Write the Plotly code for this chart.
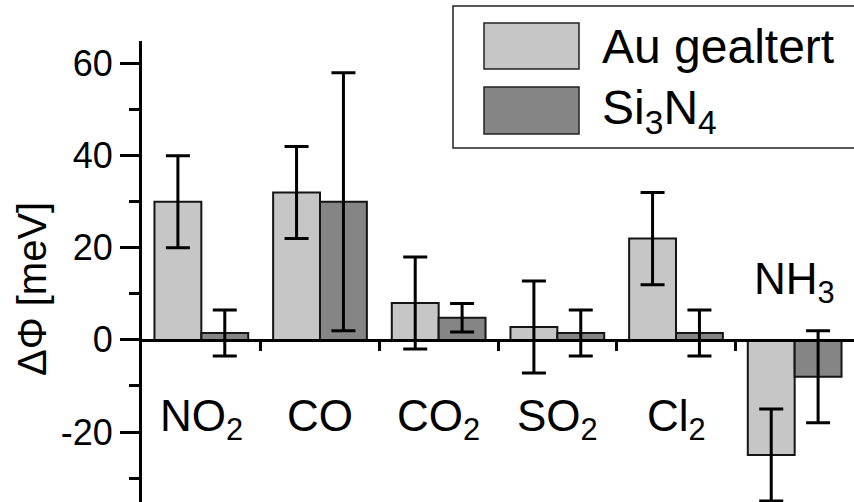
import plotly.graph_objects as go

# ---- data ----
categories = ["NO<sub>2</sub>", "CO", "CO<sub>2</sub>", "SO<sub>2</sub>", "Cl<sub>2</sub>", "NH<sub>3</sub>"]
series_names = ["Au gealtert", "Si<sub>3</sub>N<sub>4</sub>"]
au_values = [30, 32, 8, 2.8, 22, -25]
au_errors = [10, 10, 10, 10, 10, 10]
si_values = [1.5, 30, 4.8, 1.5, 1.5, -8]
si_errors = [5, 28, 3.1, 5, 5, 10]
y_tickvals = [-20, 0, 20, 40, 60]
y_ticktext = ["-20", "0", "20", "40", "60"]
y_title = "ΔΦ [meV]"

# ---- style ----
FONT = "Liberation Sans, Arial, sans-serif"
LIGHT = "#c6c6c6"
DARK = "#858585"
EDGE = "#151515"
ymin, ymax = -35.2, 64.9
W, H = 854, 502
ML, MT = 142, 41
PW, PH = W - ML, H - MT

xpos = list(range(len(categories)))
bounds = [i + 0.5 for i in xpos[:-1]]

fig = go.Figure()
for vals, errs, col in [(au_values, au_errors, LIGHT), (si_values, si_errors, DARK)]:
    fig.add_trace(go.Bar(
        x=xpos, y=vals,
        marker=dict(color=col, line=dict(color=EDGE, width=2)),
        error_y=dict(type="data", array=errs, color="black", thickness=3, width=12),
        showlegend=False,
    ))

zero_pos = (0 - ymin) / (ymax - ymin)
xax_common = dict(range=[-0.5, len(categories) - 0.5], anchor="free", position=zero_pos,
                  showgrid=False, zeroline=False, showticklabels=False,
                  tickmode="array", tickvals=bounds, ticklen=9, tickwidth=2.5,
                  tickcolor="black")

fig.update_layout(
    width=W, height=H,
    margin=dict(l=ML, r=0, t=MT, b=0),
    paper_bgcolor="white", plot_bgcolor="white",
    barmode="group", bargap=0.21, bargroupgap=0,
    font=dict(family=FONT, color="black"),
    xaxis=dict(**xax_common, showline=True, linecolor="black", linewidth=2.5, ticks="outside"),
    xaxis2=dict(**xax_common, overlaying="x", showline=False, ticks="inside"),
    yaxis=dict(range=[ymin, ymax], showgrid=False, zeroline=False,
               showline=True, linecolor="black", linewidth=3,
               ticks="outside", ticklen=19, tickwidth=3, tickcolor="black",
               tickmode="array", tickvals=y_tickvals, ticktext=y_ticktext,
               tickfont=dict(size=36, family=FONT, color="black"),
               minor=dict(ticks="outside", ticklen=10, tickwidth=3, tickcolor="black", dtick=10,
                          showgrid=False)),
)

# category labels
for i, lab in enumerate(categories):
    below = min(au_values[i], si_values[i]) >= 0
    fig.add_annotation(x=i, y=0, xref="x", yref="y", text=lab, showarrow=False,
                       font=dict(size=44, family=FONT, color="black"),
                       yanchor="top" if below else "bottom",
                       yshift=-49 if below else 28)

# y title
def px(xp):
    return (xp - ML) / PW
def py(yp):
    return (H - yp) / PH

fig.add_annotation(x=px(32), y=py(289), xref="paper", yref="paper", text=y_title,
                   textangle=-90, showarrow=False, xanchor="center", yanchor="middle",
                   font=dict(size=40, family=FONT, color="black"))

# legend (manual, large swatches)
fig.add_shape(type="rect", xref="paper", yref="paper", x0=px(453), x1=px(870), y0=py(148), y1=py(6),
              line=dict(color="#222", width=1.5), fillcolor="white", layer="above")
rows = [(23, 69, LIGHT), (87, 134, DARK)]
for name, (t, b, col) in zip(series_names, rows):
    fig.add_shape(type="rect", xref="paper", yref="paper", x0=px(484), x1=px(579), y0=py(b), y1=py(t),
                  line=dict(color="#222", width=1.5), fillcolor=col, layer="above")
    fig.add_annotation(x=px(600), y=py((t + b) / 2), xref="paper", yref="paper", text=name,
                       showarrow=False, xanchor="left", yanchor="middle",
                       font=dict(size=48, family=FONT, color="black"))

fig.write_html("out.html")
